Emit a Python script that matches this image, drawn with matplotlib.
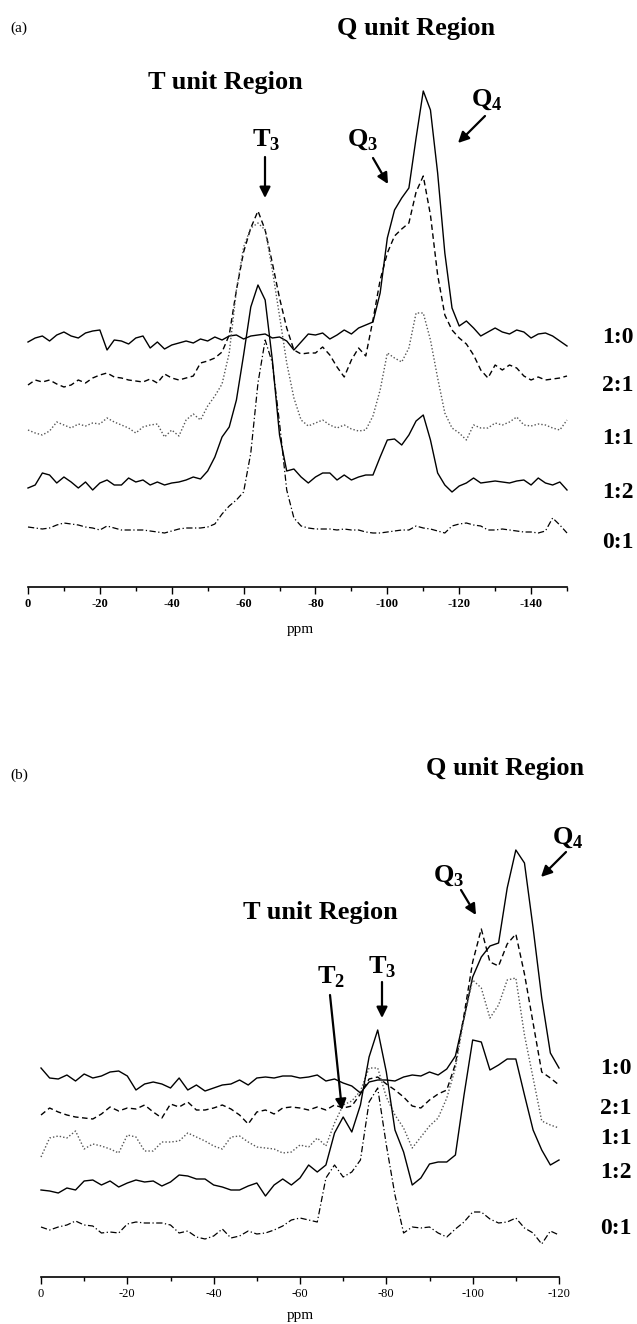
import numpy as np
import matplotlib
matplotlib.use('Agg')
import matplotlib.pyplot as plt
from matplotlib.ticker import MultipleLocator

plt.rcParams['font.family'] = ['Liberation Serif', 'DejaVu Serif']
plt.rcParams['mathtext.fontset'] = 'custom'
plt.rcParams['mathtext.rm'] = 'Liberation Serif'
plt.rcParams['mathtext.bf'] = 'Liberation Serif:bold'
plt.rcParams['axes.unicode_minus'] = False

# sample ratios (top to bottom)
ratios = ['1:0', '2:1', '1:1', '1:2', '0:1']

# ---- panel (a): chemical shift grid, 0 .. -150 ppm every 2 ppm
ppm_a = np.arange(0, -151, -2)

a_10 = [-4, 0, 2, -3, 3, 6, 2, 0, 5, 7,
        8, -12, -2, -3, -6, 0, 2, -10, -4, -11,
        -7, -5, -3, -5, -1, -3, 1, -2, 2, 3,
        -1, 2, 3, 4, 0, 1, -3, -12, -4, 4,
        3, 5, -1, 3, 8, 4, 10, 13, 16, 45,
        100, 128, 140, 150, 200, 247, 228, 165, 85, 30,
        12, 17, 10, 2, 6, 10, 6, 4, 8, 6,
        0, 4, 5, 2, -3, -8]
a_21 = [-5, 0, -2, 0, -4, -7, -5, 0, -3, 2,
        5, 7, 3, 2, 0, -1, -2, 1, -3, 6,
        2, 0, 2, 4, 17, 19, 22, 28, 45, 90,
        128, 152, 169, 150, 117, 82, 52, 30, 26, 27,
        27, 33, 25, 13, 3, 20, 32, 24, 60, 100,
        127, 144, 151, 157, 188, 204, 165, 105, 65, 50,
        42, 36, 25, 10, 2, 15, 10, 15, 12, 4,
        0, 3, 0, 1, 2, 4]
a_11 = [-2, -5, -7, -3, 6, 3, 0, 4, 2, 5,
        4, 10, 6, 3, 0, -5, 1, 3, 4, -9,
        -2, -8, 8, 14, 8, 22, 32, 44, 75, 138,
        181, 200, 205, 198, 158, 112, 65, 30, 8, 2,
        5, 8, 3, 0, 3, -1, -3, -2, 12, 38,
        75, 70, 66, 80, 115, 115, 88, 50, 15, 0,
        -5, -12, 3, 0, 0, 5, 3, 6, 11, 3,
        2, 4, 3, 0, -2, 8]
a_12 = [-3, 0, 12, 10, 2, 8, 3, -3, 3, -5,
        2, 5, 0, 0, 7, 3, 5, 0, 3, 0,
        2, 3, 5, 8, 6, 14, 28, 48, 58, 85,
        130, 178, 200, 185, 125, 50, 14, 16, 8, 2,
        8, 12, 12, 5, 10, 5, 8, 10, 10, 28,
        45, 46, 40, 50, 64, 70, 45, 12, 0, -7,
        -1, 2, 7, 2, 3, 4, 3, 2, 4, 5,
        0, 7, 2, 0, 3, -5]
a_01 = [1, 0, -1, 0, 3, 5, 4, 3, 1, 0,
        -2, 2, 0, -2, -2, -2, -2, -3, -4, -5,
        -3, -1, 0, 0, 0, 1, 4, 14, 22, 28,
        36, 75, 145, 188, 165, 105, 38, 10, 2, 0,
        -1, -1, -1, -2, -1, -2, -2, -4, -5, -5,
        -4, -3, -2, -2, 2, 0, -1, -3, -5, 2,
        4, 5, 3, 2, -2, -2, -1, -2, -3, -4,
        -4, -5, -3, 10, 3, -5]

# ---- panel (b): chemical shift grid, 0 .. -120 ppm every 2 ppm
ppm_b = np.arange(0, -121, -2)

b_10 = [10, 0, -1, 3, -3, 4, 0, 2, 6, 7,
        2, -12, -6, -4, -6, -10, 0, -12, -7, -13,
        -10, -7, -6, -2, -7, 0, 1, 0, 2, 2,
        0, 1, 3, -3, -1, -5, -8, -15, -4, -2,
        -2, -3, 1, 3, 2, 6, 3, 9, 22, 60,
        101, 121, 132, 135, 190, 228, 215, 150, 80, 25,
        10]
b_21 = [-3, 4, 0, -3, -5, -6, -7, -2, 5, 1,
        4, 3, 7, 0, -6, 8, 5, 10, 2, 2,
        4, 7, 3, -3, -12, 0, 2, -2, 4, 5,
        4, 2, 5, 2, 7, 4, 6, 18, 33, 35,
        28, 22, 15, 6, 4, 12, 18, 22, 48, 97,
        150, 183, 150, 146, 168, 178, 138, 89, 40, 34,
        27]
b_11 = [-14, 5, 7, 5, 12, -6, -1, -3, -6, -10,
        8, 6, -8, -8, 1, 1, 2, 10, 6, 2,
        -3, -6, 6, 7, 1, -4, -5, -6, -10, -9,
        -2, -4, 5, -3, 20, 38, 42, 52, 75, 75,
        46, 28, 15, -5, 6, 17, 25, 45, 75, 125,
        163, 155, 125, 138, 163, 165, 108, 65, 22, 18,
        15]
b_12 = [0, -1, -3, 2, 0, 9, 10, 5, 9, 3,
        7, 10, 8, 9, 4, 8, 15, 14, 11, 11,
        5, 3, 0, 0, 4, 7, -6, 5, 11, 5,
        12, 25, 18, 25, 57, 73, 58, 85, 133, 160,
        118, 60, 38, 5, 12, 26, 28, 28, 35, 95,
        150, 148, 120, 125, 131, 131, 95, 60, 40, 25,
        30]
b_01 = [3, 0, 3, 5, 9, 5, 4, -3, -2, -3,
        6, 8, 7, 7, 7, 5, -3, -1, -7, -9,
        -6, 1, -8, -6, -1, -4, -3, 0, 4, 10,
        12, 10, 8, 52, 65, 53, 58, 70, 128, 142,
        85, 35, -3, 3, 2, 3, -3, -7, 1, 8,
        18, 18, 11, 7, 8, 12, 2, -3, -14, -1,
        -5]

W, H = 637, 1324
fig = plt.figure(figsize=(W / 100, H / 100), dpi=100)


def fpos(x, y):
    # pixel position (from top-left) -> figure fraction
    return x / W, 1 - y / H


styles = [dict(ls='-', color='black', lw=1.0),
          dict(ls=(0, (4, 2.5)), color='black', lw=1.0),
          dict(ls=(0, (1, 1.5)), color='#555555', lw=1.0),
          dict(ls='-', color='black', lw=1.0),
          dict(ls=(0, (5, 2, 1, 2)), color='black', lw=0.9)]


def draw_panel(rect, ppm, traces, offsets, xend, bold_ticks):
    ax = fig.add_axes(rect)
    for vals, off, st in zip(traces, offsets, styles):
        ax.plot(ppm, np.array(vals) + off, clip_on=False, **st)
    ax.set_xlim(0, xend)
    ax.set_ylim(0, rect[3] * H)
    for s in ['left', 'right', 'top']:
        ax.spines[s].set_visible(False)
    ax.spines['bottom'].set_linewidth(1.2)
    ax.set_yticks([])
    ax.xaxis.set_major_locator(MultipleLocator(20))
    ax.xaxis.set_minor_locator(MultipleLocator(10))
    ax.tick_params(axis='x', which='major', length=5, width=1.0, pad=3, labelsize=9)
    ax.tick_params(axis='x', which='minor', length=3, width=1.0)
    if bold_ticks:
        for lab in ax.get_xticklabels():
            lab.set_fontweight('bold')
    ax.patch.set_visible(False)
    return ax


# panel (a)
bottom_a, top_a = 587, 60
draw_panel([28 / W, 1 - bottom_a / H, 539 / W, (bottom_a - top_a) / H],
           ppm_a, [a_10, a_21, a_11, a_12, a_01],
           [249, 207, 159, 102, 59], -150, True)

# panel (b)
bottom_b, top_b = 1277, 800
draw_panel([41 / W, 1 - bottom_b / H, 518 / W, (bottom_b - top_b) / H],
           ppm_b, [b_10, b_21, b_11, b_12, b_01],
           [199, 165, 134, 87, 47], -120, False)

big = dict(fontsize=19, fontweight='bold', ha='center', va='center')

# ---- panel (a) annotations
fig.text(*fpos(10, 28), '(a)', fontsize=11, ha='left', va='center')
fig.text(*fpos(416, 28), 'Q unit Region', **big)
fig.text(*fpos(225, 82), 'T unit Region', **big)
fig.text(*fpos(266, 140), r'T$_{\mathbf{3}}$', **big)
fig.text(*fpos(363, 140), r'Q$_{\mathbf{3}}$', **big)
fig.text(*fpos(487, 100), r'Q$_{\mathbf{4}}$', **big)
fig.text(*fpos(300, 630), 'ppm', fontsize=11, ha='center', va='center')
for lab, y in zip(ratios, [338, 385, 438, 493, 543]):
    fig.text(*fpos(602, y), lab, fontsize=17, fontweight='bold', ha='left', va='center')

# ---- panel (b) annotations
fig.text(*fpos(10, 775), '(b)', fontsize=11, ha='left', va='center')
fig.text(*fpos(505, 768), 'Q unit Region', **big)
fig.text(*fpos(320, 912), 'T unit Region', **big)
fig.text(*fpos(382, 967), r'T$_{\mathbf{3}}$', **big)
fig.text(*fpos(331, 977), r'T$_{\mathbf{2}}$', **big)
fig.text(*fpos(449, 875), r'Q$_{\mathbf{3}}$', **big)
fig.text(*fpos(568, 837), r'Q$_{\mathbf{4}}$', **big)
fig.text(*fpos(300, 1315), 'ppm', fontsize=11, ha='center', va='center')
for lab, y in zip(ratios, [1068, 1108, 1138, 1173, 1228]):
    fig.text(*fpos(600, y), lab, fontsize=17, fontweight='bold', ha='left', va='center')

# arrows (start -> tip, in pixels from top-left)
arrows = [((265, 157), (265, 198)),
          ((373, 158), (388, 184)),
          ((485, 116), (458, 143)),
          ((566, 852), (541, 877)),
          ((461, 890), (476, 915)),
          ((382, 982), (382, 1018)),
          ((330, 995), (342, 1110))]
for start, tip in arrows:
    fig.add_artist(matplotlib.patches.FancyArrowPatch(
        fpos(*start), fpos(*tip), transform=fig.transFigure,
        arrowstyle='-|>', mutation_scale=16, lw=1.6, color='black',
        shrinkA=0, shrinkB=0))

plt.savefig('out.png', dpi=100)
